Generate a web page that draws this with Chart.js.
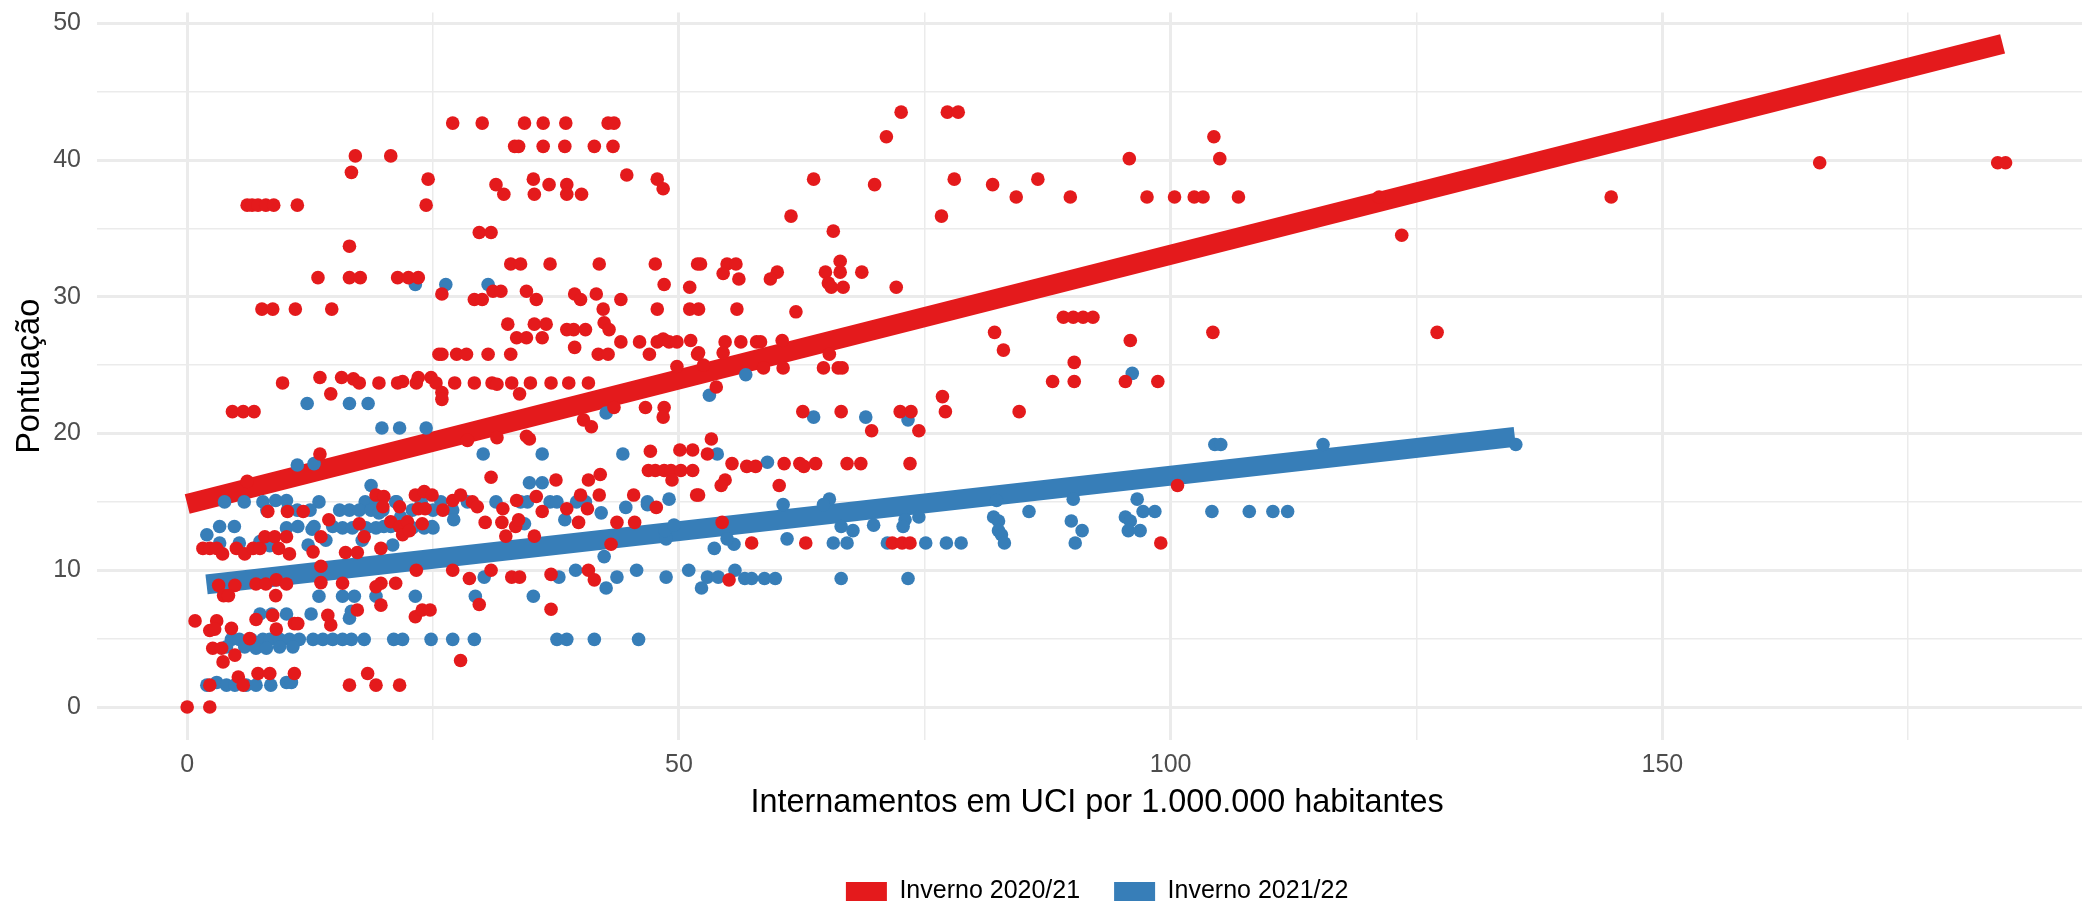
<!DOCTYPE html>
<html lang="pt">
<head>
<meta charset="utf-8">
<title>Pontuação vs internamentos em UCI</title>
<script src="https://cdn.jsdelivr.net/npm/chart.js@4.4.1/dist/chart.umd.min.js"></script>
<style>
    html, body { margin: 0; padding: 0; background: #ffffff; overflow: hidden; }
    /* the original panel runs slightly past the right edge of the picture */
    #wrap { position: relative; width: 2104px; height: 914px; }
</style>
</head>
<body>
<div id="wrap"><canvas id="chart_pontuacao"></canvas></div>
<script>
const seriesLabels = ['Inverno 2020/21', 'Inverno 2021/22'];
const seriesColors = ['#E41A1C', '#377EB8'];

const xTicks = [0, 25, 50, 75, 100, 125, 150, 175];
const yTicks = [0, 5, 10, 15, 20, 25, 30, 35, 40, 45, 50];

// [internamentos em UCI por 1.000.000, pontuação]
const pontosInverno2021 = [
    [17.1, 40.3], [20.7, 40.3], [16.7, 39.1],
    [27.0, 42.7], [30.0, 42.7], [34.3, 42.7], [36.2, 42.7], [38.5, 42.7], [42.8, 42.7], [43.4, 42.7],
    [33.3, 41.0], [33.7, 41.0], [36.2, 41.0], [38.4, 41.0], [41.4, 41.0], [43.3, 41.0],
    [44.7, 38.9], [24.5, 38.6], [24.3, 36.7],
    [6.1, 36.7], [6.6, 36.7], [7.2, 36.7], [8.0, 36.7], [8.8, 36.7], [11.2, 36.7],
    [31.4, 38.2], [32.2, 37.5], [35.2, 38.6], [35.3, 37.5], [36.8, 38.2], [38.6, 38.2], [38.6, 37.5], [40.1, 37.5],
    [47.8, 38.6], [48.4, 37.9], [16.5, 33.7],
    [13.3, 31.4], [16.5, 31.4], [17.6, 31.4], [21.4, 31.4], [22.5, 31.4], [23.5, 31.4], [25.9, 30.2],
    [7.6, 29.1], [8.7, 29.1], [11.0, 29.1], [14.7, 29.1],
    [29.7, 34.7], [30.9, 34.7], [29.2, 29.8], [30.0, 29.8], [31.1, 30.4], [31.9, 30.4],
    [32.9, 32.4], [33.9, 32.4], [36.9, 32.4], [41.9, 32.4], [47.6, 32.4], [51.9, 32.4], [52.2, 32.4], [54.9, 32.4], [55.8, 32.4],
    [34.5, 30.4], [35.5, 29.8], [39.4, 30.2], [40.0, 29.8], [41.6, 30.2], [44.1, 29.8], [48.5, 30.9], [51.1, 30.7],
    [42.3, 29.1], [47.8, 29.1], [51.1, 29.1], [52.0, 29.1], [55.9, 29.1],
    [32.6, 28.0], [35.3, 28.0], [36.5, 28.0], [33.5, 27.0], [34.5, 27.0], [36.1, 27.0],
    [38.6, 27.6], [39.3, 27.6], [40.5, 27.6], [42.4, 28.1], [42.9, 27.6], [39.4, 26.3],
    [44.1, 26.7], [46.0, 26.7], [47.0, 25.8], [47.8, 26.7], [48.4, 26.9], [49.0, 26.7], [49.8, 26.7], [51.2, 26.8],
    [25.6, 25.8], [25.9, 25.8], [27.4, 25.8], [28.4, 25.8], [30.6, 25.8], [32.9, 25.8], [41.8, 25.8], [42.8, 25.8], [51.9, 25.8],
    [9.7, 23.7], [13.5, 24.1], [15.7, 24.1], [16.9, 24.0], [17.5, 23.7], [19.5, 23.7], [21.4, 23.7], [21.9, 23.8],
    [23.3, 23.7], [23.5, 24.1], [24.8, 24.1], [25.3, 23.7], [27.2, 23.7], [29.2, 23.7], [31.0, 23.7], [31.5, 23.6],
    [33.0, 23.7], [34.9, 23.7], [37.0, 23.7], [38.8, 23.7], [40.8, 23.7],
    [14.6, 22.9], [25.9, 23.0], [25.9, 22.5], [33.8, 22.9],
    [4.6, 21.6], [5.7, 21.6], [6.8, 21.6],
    [46.6, 21.9], [48.5, 21.9], [43.4, 21.9], [48.4, 21.2], [40.3, 21.0], [41.1, 20.5],
    [34.5, 19.8], [34.8, 19.6], [31.5, 19.7], [28.5, 19.5], [13.5, 18.5],
    [30.9, 16.8], [37.5, 16.6], [40.8, 16.6], [42.0, 17.0],
    [47.1, 18.7], [50.1, 18.8], [51.4, 18.8],
    [46.9, 17.3], [47.6, 17.3], [48.5, 17.3], [49.2, 17.3], [50.2, 17.3], [51.4, 17.3], [49.3, 16.6],
    [6.1, 16.5],
    [35.5, 15.4], [40.0, 15.5], [41.9, 15.5], [45.4, 15.5], [51.8, 15.5],
    [19.2, 15.5], [20.0, 15.4], [19.9, 14.65], [21.6, 14.65], [23.2, 15.5], [24.1, 15.75], [24.9, 15.5],
    [23.5, 14.5], [24.2, 14.5], [26.0, 14.4], [27.0, 15.1], [27.8, 15.5], [29.0, 15.0], [29.5, 14.65],
    [8.2, 14.3], [10.2, 14.3], [11.8, 14.3], [32.1, 14.5], [33.5, 15.1],
    [14.4, 13.7], [17.5, 13.4], [18.0, 12.45], [13.6, 12.45], [20.7, 13.55], [21.6, 13.2], [22.4, 13.55],
    [21.9, 12.6], [22.6, 12.9], [23.9, 13.4], [19.7, 11.6],
    [30.3, 13.5], [32.0, 13.5], [32.4, 12.5], [33.4, 13.2], [33.7, 13.7], [35.3, 12.5], [36.1, 14.3],
    [38.6, 14.5], [39.8, 13.5], [40.7, 14.5], [43.7, 13.5], [45.5, 13.5], [43.1, 11.9], [47.7, 14.6],
    [1.6, 11.6], [2.3, 11.6], [3.0, 11.6], [3.6, 11.2], [5.0, 11.6], [5.85, 11.2], [6.7, 11.6], [7.4, 11.6],
    [7.9, 12.45], [8.9, 12.45], [9.3, 11.6], [10.1, 12.45], [10.4, 11.2], [12.8, 11.35], [16.1, 11.3], [17.3, 11.3],
    [13.6, 10.3], [13.6, 9.1], [15.8, 9.05], [19.7, 9.05], [19.2, 8.8], [21.2, 9.05], [23.3, 10.0], [27.0, 10.0],
    [28.7, 9.4], [30.9, 10.0], [33.0, 9.5], [33.8, 9.5], [37.0, 9.7], [40.8, 10.0], [41.4, 9.3],
    [3.2, 8.9], [4.85, 8.9], [3.7, 8.15], [4.2, 8.15], [7.0, 9.0], [8.0, 9.0], [9.06, 9.3], [10.1, 9.0], [9.0, 8.15],
    [17.3, 7.1], [19.7, 7.45], [23.2, 6.6], [23.9, 7.1], [24.7, 7.1], [14.3, 6.7], [14.6, 6.0], [29.7, 7.5], [37.0, 7.15],
    [0.8, 6.3], [2.3, 5.6], [3.0, 6.3], [2.8, 5.7], [4.5, 5.75], [7.0, 6.4], [8.7, 6.7], [9.06, 5.7], [10.9, 6.1], [11.25, 6.1],
    [2.6, 4.3], [3.5, 4.3], [4.85, 3.8], [3.65, 3.3], [6.35, 5.0], [27.8, 3.4],
    [7.2, 2.45], [8.4, 2.45], [10.9, 2.45], [5.2, 2.2], [18.35, 2.45],
    [2.3, 1.6], [5.7, 1.6], [16.5, 1.6], [19.2, 1.6], [21.6, 1.6],
    [0, 0], [2.3, 0],
    [72.6, 43.5], [77.3, 43.5], [78.4, 43.5], [71.1, 41.7], [95.8, 40.1], [104.4, 41.7], [105.0, 40.1],
    [63.7, 38.6], [69.9, 38.2], [78.0, 38.6], [81.9, 38.2], [84.3, 37.3], [86.5, 38.6], [89.8, 37.3],
    [97.6, 37.3], [100.4, 37.3], [102.4, 37.3], [103.3, 37.3], [106.9, 37.3],
    [61.4, 35.9], [76.7, 35.9], [65.7, 34.8],
    [66.4, 32.6], [66.4, 31.8], [54.5, 31.7], [60.0, 31.8], [59.3, 31.3], [64.9, 31.8], [68.6, 31.8],
    [56.1, 31.3], [65.2, 31.0], [65.5, 30.7], [66.7, 30.7], [72.1, 30.7], [61.9, 28.9],
    [89.1, 28.5], [90.1, 28.5], [91.1, 28.5], [92.1, 28.5],
    [82.1, 27.4], [83.0, 26.1], [104.3, 27.4], [95.9, 26.8], [90.2, 25.2],
    [54.7, 26.7], [56.3, 26.7], [57.9, 26.7], [58.3, 26.7], [60.5, 26.8],
    [52.0, 25.9], [54.5, 25.9], [65.3, 25.8],
    [49.8, 24.9], [52.5, 25.0], [58.6, 24.8], [60.6, 24.8], [64.7, 24.8], [66.2, 24.8], [66.6, 24.8],
    [88.0, 23.8], [90.2, 23.8], [95.4, 23.8], [98.7, 23.8], [53.8, 23.4], [76.8, 22.7],
    [62.6, 21.6], [66.5, 21.6], [72.5, 21.6], [73.6, 21.6], [77.1, 21.6], [84.6, 21.6],
    [69.6, 20.2], [74.4, 20.2], [100.7, 16.2], [53.3, 19.6], [52.9, 18.5],
    [55.4, 17.8], [56.9, 17.6], [57.8, 17.6], [60.7, 17.8], [62.3, 17.8], [62.7, 17.6], [63.9, 17.8],
    [67.1, 17.8], [68.5, 17.8], [73.5, 17.8],
    [54.7, 16.6], [54.3, 16.2], [60.2, 16.2], [52.0, 15.5],
    [57.4, 12.0], [62.9, 12.0], [71.7, 12.0], [72.7, 12.0], [73.5, 12.0], [99.0, 12.0], [54.4, 13.5], [55.1, 9.3],
    [121.2, 37.3], [123.5, 34.5], [127.1, 27.4], [144.8, 37.3], [166.0, 39.8], [184.1, 39.8], [184.9, 39.8],
];

const pontosInverno2122 = [
    [23.2, 30.9], [26.3, 30.9], [30.6, 30.9],
    [12.2, 22.2], [16.5, 22.2], [18.4, 22.2],
    [19.8, 20.4], [21.6, 20.4], [24.3, 20.4],
    [30.1, 18.5], [36.1, 18.5], [44.3, 18.5], [42.6, 21.5],
    [11.2, 17.7], [12.9, 17.8], [18.7, 16.2], [34.8, 16.4], [36.1, 16.4],
    [3.8, 15.0], [5.8, 15.0], [7.7, 15.0], [9.0, 15.1], [10.1, 15.1], [13.4, 15.0], [18.1, 15.0], [19.2, 15.0],
    [21.3, 15.0], [23.8, 15.0], [25.8, 15.0], [28.5, 15.0], [31.4, 15.0], [33.9, 15.0], [34.6, 15.0], [36.9, 15.0],
    [37.6, 15.0], [39.6, 15.0], [40.5, 15.0], [46.8, 15.0], [49.0, 15.2],
    [8.1, 14.4], [10.2, 14.4], [11.2, 14.4], [12.5, 14.4], [15.5, 14.4], [16.5, 14.4], [17.5, 14.4], [18.7, 14.4],
    [19.9, 14.4], [21.2, 15.0], [22.9, 14.4], [25.0, 14.4], [27.0, 14.4], [19.5, 14.2], [21.7, 13.9], [24.9, 13.2],
    [27.1, 13.7], [34.3, 13.4], [38.4, 13.7], [42.1, 14.2], [44.6, 14.6], [46.8, 14.8],
    [3.3, 13.2], [4.8, 13.2], [10.1, 13.1], [11.25, 13.2], [12.9, 13.2], [12.7, 13.0], [14.8, 13.2], [15.8, 13.1],
    [16.8, 13.1], [18.2, 13.1], [19.2, 13.1], [20.0, 13.2], [22.9, 13.1], [24.1, 13.1], [25.0, 13.1], [20.7, 13.2],
    [2.0, 12.6],
    [3.3, 12.0], [5.3, 12.0], [7.4, 12.1], [8.4, 11.8], [12.3, 11.85], [14.1, 12.2], [17.8, 12.2], [20.9, 11.85],
    [42.4, 11.0],
    [39.5, 10.0], [45.7, 10.0], [51.0, 10.0], [43.7, 9.5], [48.7, 9.5], [37.8, 9.5], [30.2, 9.5], [42.6, 8.7],
    [13.4, 8.1], [15.8, 8.1], [17.0, 8.1], [19.2, 8.1], [23.2, 8.1], [29.3, 8.1], [35.2, 8.1],
    [7.4, 6.8], [8.6, 6.8], [10.1, 6.8], [12.6, 6.8], [16.5, 6.5], [16.7, 7.0],
    [4.5, 4.95], [5.3, 4.95], [6.5, 4.95], [7.7, 4.95], [8.4, 4.95], [9.4, 4.95], [10.4, 4.95], [11.4, 4.95],
    [12.8, 4.95], [13.8, 4.95], [14.8, 4.95], [15.8, 4.95], [16.7, 4.95], [18.0, 4.95], [21.0, 4.95], [21.9, 4.95],
    [24.8, 4.95], [27.0, 4.95], [29.2, 4.95], [37.6, 4.95], [38.6, 4.95], [41.4, 4.95], [45.9, 4.95],
    [4.0, 4.4], [5.85, 4.4], [7.0, 4.3], [8.05, 4.3], [9.4, 4.4], [10.75, 4.4],
    [2.0, 1.6], [3.0, 1.8], [4.0, 1.6], [4.85, 1.6], [6.0, 1.6], [7.0, 1.6], [8.5, 1.6], [10.1, 1.8], [10.6, 1.8],
    [53.1, 22.8], [56.8, 24.3], [96.1, 24.4], [63.7, 21.2], [69.0, 21.2], [73.3, 21.0],
    [104.5, 19.2], [105.1, 19.2], [115.5, 19.2], [135.1, 19.2],
    [53.9, 18.5], [59.0, 17.9],
    [60.6, 14.8], [65.3, 15.2], [64.7, 14.8], [82.3, 15.1], [90.1, 15.2], [96.6, 15.2],
    [85.6, 14.3], [97.2, 14.3], [98.4, 14.3], [104.2, 14.3], [108.0, 14.3], [110.4, 14.3], [111.9, 14.3],
    [82.0, 13.9], [82.5, 13.6], [89.9, 13.6], [95.4, 13.9], [95.9, 13.6], [74.4, 13.9], [73.0, 13.7], [72.8, 13.2],
    [69.8, 13.3], [66.5, 13.2], [67.7, 12.9],
    [82.5, 12.9], [82.8, 12.6], [91.0, 12.9], [95.7, 12.9], [96.9, 12.9],
    [65.7, 12.0], [67.1, 12.0], [71.2, 12.0], [75.1, 12.0], [77.2, 12.0], [78.7, 12.0], [83.1, 12.0], [90.3, 12.0],
    [61.0, 12.3], [55.6, 11.9], [54.9, 12.3], [53.6, 11.6], [48.7, 12.3], [48.6, 12.9], [49.5, 13.3],
    [55.7, 10.0], [52.9, 9.5], [54.0, 9.5], [56.7, 9.4], [57.4, 9.4], [58.7, 9.4], [59.8, 9.4], [66.5, 9.4],
    [73.3, 9.4], [52.3, 8.7],
];

// regression lines (start / end)
const ajusteX2021 = [0, 184.6];
const ajusteY2021 = [14.85, 48.49];
const ajusteX2122 = [1.97, 135.0];
const ajusteY2122 = [8.97, 19.76];

Chart.defaults.font.family = "'Liberation Sans', Arial, Helvetica, sans-serif";

const toPoints = (pairs) => pairs.map(([x, y]) => ({x, y}));
const toLine = (xs, ys) => xs.map((x, i) => ({x, y: ys[i]}));

const gridColor = '#EBEBEB';
const tickColor = '#4D4D4D';
const pointSize = 6.8;
const fitWidth = 20;

new Chart(document.getElementById('chart_pontuacao'), {
    type: 'scatter',
    data: {
        datasets: [
            {
                label: seriesLabels[0],
                data: toPoints(pontosInverno2021),
                backgroundColor: seriesColors[0],
                borderColor: seriesColors[0],
                borderWidth: 0,
                pointRadius: pointSize,
                pointHoverRadius: pointSize,
                order: 1,
            },
            {
                label: seriesLabels[1],
                data: toPoints(pontosInverno2122),
                backgroundColor: seriesColors[1],
                borderColor: seriesColors[1],
                borderWidth: 0,
                pointRadius: pointSize,
                pointHoverRadius: pointSize,
                order: 2,
            },
            {
                type: 'line',
                label: 'ajuste 2020/21',
                data: toLine(ajusteX2021, ajusteY2021),
                borderColor: seriesColors[0],
                borderWidth: fitWidth,
                borderCapStyle: 'butt',
                pointRadius: 0,
                fill: false,
                order: 3,
            },
            {
                type: 'line',
                label: 'ajuste 2021/22',
                data: toLine(ajusteX2122, ajusteY2122),
                borderColor: seriesColors[1],
                borderWidth: fitWidth,
                borderCapStyle: 'butt',
                pointRadius: 0,
                fill: false,
                order: 4,
            },
        ],
    },
    options: {
        animation: false,
        responsive: true,
        maintainAspectRatio: false,
        devicePixelRatio: 1,
        layout: {
            padding: {top: 12.6, right: 0, bottom: 0, left: 0},
        },
        scales: {
            x: {
                type: 'linear',
                min: -9.17,
                max: 194.22,
                afterBuildTicks: (scale) => {
                    scale.ticks = xTicks.map(v => ({value: v}));
                },
                afterFit: (scale) => {
                    scale.height = 105;
                    scale.paddingLeft = 0;
                    scale.paddingRight = 0;
                },
                border: {display: false},
                grid: {
                    drawTicks: false,
                    color: gridColor,
                    lineWidth: (ctx) => (ctx.tick && ctx.tick.value % 50 === 0) ? 3 : 1.5,
                },
                ticks: {
                    autoSkip: false,
                    maxRotation: 0,
                    padding: 10,
                    color: tickColor,
                    font: {size: 25},
                    callback: (v) => v % 50 === 0 ? v : '',
                },
                title: {
                    display: true,
                    text: 'Internamentos em UCI por 1.000.000 habitantes',
                    color: '#000000',
                    font: {size: 32.4},
                    padding: {top: 0, bottom: 22.5},
                },
            },
            y: {
                type: 'linear',
                min: -2.41,
                max: 50.78,
                afterBuildTicks: (scale) => {
                    scale.ticks = yTicks.map(v => ({value: v}));
                },
                afterFit: (scale) => {
                    scale.width = 97;
                    scale.paddingTop = 0;
                    scale.paddingBottom = 0;
                },
                border: {display: false},
                grid: {
                    drawTicks: false,
                    color: gridColor,
                    lineWidth: (ctx) => (ctx.tick && ctx.tick.value % 10 === 0) ? 3 : 1.5,
                },
                ticks: {
                    autoSkip: false,
                    padding: 16,
                    color: tickColor,
                    font: {size: 25},
                    callback: (v) => v % 10 === 0 ? v : '',
                },
                title: {
                    display: true,
                    text: 'Pontuação',
                    color: '#000000',
                    font: {size: 32.4},
                    padding: {top: 10.8, bottom: 0},
                },
            },
        },
        plugins: {
            legend: {
                position: 'bottom',
                fullSize: false,
                labels: {
                    boxWidth: 41,
                    boxHeight: 19,
                    padding: 34,
                    color: '#000000',
                    font: {size: 25},
                    filter: (item) => item.datasetIndex < 2,
                },
            },
            tooltip: {enabled: false},
        },
    },
});
</script>
</body>
</html>
